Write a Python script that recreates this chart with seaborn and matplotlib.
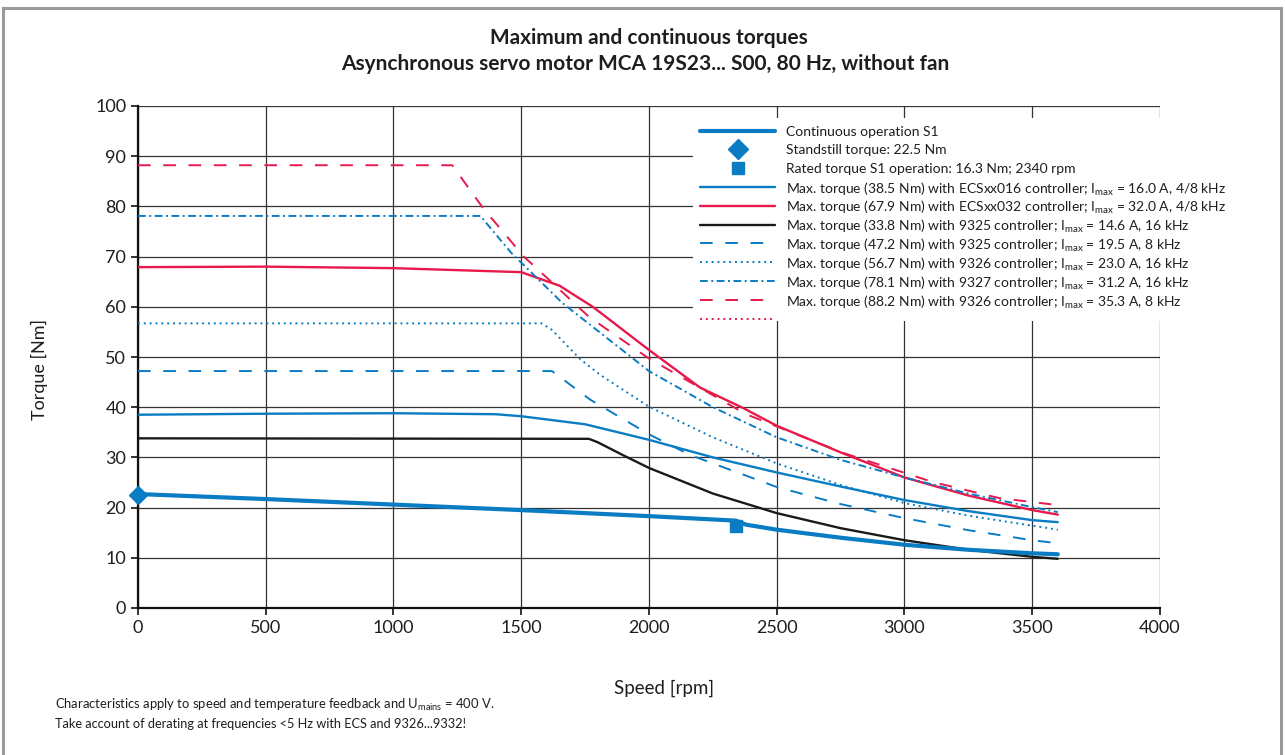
import matplotlib
matplotlib.use("Agg")
import matplotlib.pyplot as plt
from matplotlib.patches import Rectangle
import seaborn as sns

# Continuous operation S1
speed_s1 = [0, 500, 1000, 1500, 2000, 2340, 2380, 2500, 2750, 3000, 3250, 3500, 3600]
torque_s1 = [22.7, 21.7, 20.6, 19.5, 18.3, 17.4, 16.6, 15.6, 14.0, 12.6, 11.6, 10.9, 10.7]

# ECSxx016 (blue solid)
speed_ecs016 = [0, 500, 1000, 1400, 1500, 1750, 2000, 2250, 2500, 2750, 3000, 3250, 3500, 3600]
torque_ecs016 = [38.5, 38.7, 38.8, 38.6, 38.2, 36.6, 33.5, 30.0, 27.0, 24.2, 21.5, 19.3, 17.5, 17.1]

# ECSxx032 (red solid)
speed_ecs032 = [0, 500, 1000, 1500, 1650, 1780, 2000, 2200, 2370, 2500, 2750, 3000, 3250, 3500, 3600]
torque_ecs032 = [67.9, 68.0, 67.7, 66.9, 64.2, 60.0, 51.4, 43.9, 39.8, 36.3, 31.0, 26.0, 22.4, 19.5, 18.6]

# 9325, 16 kHz (black)
speed_9325_16 = [0, 1765, 1800, 1900, 2000, 2250, 2500, 2750, 3000, 3250, 3500, 3600]
torque_9325_16 = [33.8, 33.7, 33.0, 30.4, 27.9, 22.8, 18.9, 15.9, 13.5, 11.6, 10.2, 9.8]

# 9325, 8 kHz (blue dashed)
speed_9325_8 = [0, 1620, 1770, 2000, 2160, 2500, 2750, 3000, 3250, 3500, 3600]
torque_9325_8 = [47.2, 47.2, 41.5, 34.6, 30.5, 24.1, 20.7, 17.9, 15.5, 13.5, 12.9]

# 9326, 16 kHz (blue dotted)
speed_9326_16 = [0, 1580, 1620, 1730, 1810, 2000, 2250, 2500, 2750, 3000, 3250, 3500, 3600]
torque_9326_16 = [56.7, 56.7, 55.4, 49.6, 46.4, 40.1, 34.0, 28.8, 24.5, 20.9, 18.4, 16.4, 15.6]

# 9327, 16 kHz (blue dash-dot)
speed_9327 = [0, 1340, 1460, 1660, 2000, 2250, 2500, 2750, 3000, 3250, 3500, 3600]
torque_9327 = [78.1, 78.1, 70.8, 60.8, 47.2, 40.0, 34.0, 29.5, 26.0, 22.8, 20.1, 19.1]

# 9326, 8 kHz (red dashed)
speed_9326_8 = [0, 1230, 1350, 1510, 1600, 1765, 2000, 2380, 2760, 3110, 3370, 3600]
torque_9326_8 = [88.2, 88.2, 79.7, 70.0, 65.8, 58.0, 49.7, 38.6, 30.9, 25.1, 21.9, 20.5]

standstill = (0, 22.5)
rated = (2340, 16.3)

legend_labels = [
    "Continuous operation S1",
    "Standstill torque: 22.5 Nm",
    "Rated torque S1 operation: 16.3 Nm; 2340 rpm",
    "Max. torque (38.5 Nm) with ECSxx016 controller; I$_{\\mathrm{max}}$ = 16.0 A, 4/8 kHz",
    "Max. torque (67.9 Nm) with ECSxx032 controller; I$_{\\mathrm{max}}$ = 32.0 A, 4/8 kHz",
    "Max. torque (33.8 Nm) with 9325 controller; I$_{\\mathrm{max}}$ = 14.6 A, 16 kHz",
    "Max. torque (47.2 Nm) with 9325 controller; I$_{\\mathrm{max}}$ = 19.5 A, 8 kHz",
    "Max. torque (56.7 Nm) with 9326 controller; I$_{\\mathrm{max}}$ = 23.0 A, 16 kHz",
    "Max. torque (78.1 Nm) with 9327 controller; I$_{\\mathrm{max}}$ = 31.2 A, 16 kHz",
    "Max. torque (88.2 Nm) with 9326 controller; I$_{\\mathrm{max}}$ = 35.3 A, 8 kHz",
    "",
]

BLUE = "#0a7cc4"
RED = "#e8194b"
BLACK = "#1a1a1a"
TXT = "#1e1e1e"

sns.set_theme(style="white")
plt.rcParams["font.family"] = ["Lato", "DejaVu Sans"]
plt.rcParams["mathtext.fontset"] = "custom"
plt.rcParams["mathtext.rm"] = "Lato"
plt.rcParams["mathtext.it"] = "Lato"

fig = plt.figure(figsize=(12.85, 7.55), dpi=100)
ax = fig.add_axes([138 / 1285, 1 - 608 / 755, 1022 / 1285, 502 / 755])

DASH = (0, (6.5, 6.5))
DOT = (0, (1, 2))
DASHDOT = (0, (4, 1.8, 1, 1.8))

# (x, y, colour, linestyle, linewidth, marker) -- order matches legend_labels
styles = [
    (speed_s1, torque_s1, BLUE, "-", 3.0, None),
    (None, None, BLUE, "none", 0, "D"),
    (None, None, BLUE, "none", 0, "s"),
    (speed_ecs016, torque_ecs016, BLUE, "-", 1.7, None),
    (speed_ecs032, torque_ecs032, RED, "-", 1.7, None),
    (speed_9325_16, torque_9325_16, BLACK, "-", 1.7, None),
    (speed_9325_8, torque_9325_8, BLUE, DASH, 1.4, None),
    (speed_9326_16, torque_9326_16, BLUE, DOT, 1.4, None),
    (speed_9327, torque_9327, BLUE, DASHDOT, 1.4, None),
    (speed_9326_8, torque_9326_8, RED, DASH, 1.4, None),
    (None, None, RED, DOT, 1.4, None),
]

for xs, ys, col, ls, lw, mk in styles[3:] + styles[:1]:
    if xs is None:
        continue
    sns.lineplot(x=xs, y=ys, ax=ax, color=col, linestyle=ls, linewidth=lw,
                 errorbar=None, sort=False, zorder=3)

ax.plot(*standstill, marker="D", color=BLUE, markersize=9, clip_on=False, zorder=4)
ax.plot(*rated, marker="s", color=BLUE, markersize=9, zorder=4)

ax.set_xlim(0, 4000)
ax.set_ylim(0, 100)
ax.set_xticks(range(0, 4001, 500))
ax.set_yticks(range(0, 101, 10))
ax.grid(True, color="#333333", linewidth=0.9)
ax.set_axisbelow(True)
for s in ["top", "right"]:
    ax.spines[s].set_visible(False)
for s in ["left", "bottom"]:
    ax.spines[s].set_color("#111111")
    ax.spines[s].set_linewidth(1.6)
ax.tick_params(axis="both", direction="out", length=5, width=1.2, color="#111111",
               labelsize=13, labelcolor=TXT, left=True, bottom=True)
ax.set_xlabel("Speed [rpm]", fontsize=13.5, color=TXT)
ax.set_ylabel("Torque [Nm]", fontsize=13, color=TXT)
ax.xaxis.set_label_coords((664 - 138) / 1022, -(680 - 608) / 502)
ax.yaxis.set_label_coords(-(138 - 48) / 1022, (608 - 370) / 502)

# white area behind the legend
ax.add_patch(Rectangle((2172, 57.2), 2000, 40.4, facecolor="white", edgecolor="none",
                       clip_on=False, zorder=1))


# legend drawn row by row so the spacing stays even
def fx(px):
    return (px - 138) / 1022


def fy(py):
    return (608 - py) / 502


row_y = [131, 149, 168, 187, 205.5, 224.5, 243, 262, 281, 300, 318.5]
for (xs, ys, col, ls, lw, mk), label, py in zip(styles, legend_labels, row_y):
    if mk is None:
        ax.plot([fx(700), fx(775)], [fy(py), fy(py)], transform=ax.transAxes,
                color=col, linestyle=ls, linewidth=lw, clip_on=False, zorder=5)
    else:
        ax.plot([fx(738)], [fy(py)], transform=ax.transAxes, color=col, marker=mk,
                markersize=9 if mk == "s" else 10, clip_on=False, zorder=5)
    if label:
        ax.text(fx(786), fy(py), label, transform=ax.transAxes, ha="left", va="center_baseline",
                fontsize=10, color=TXT, zorder=5)

fig.text(649 / 1285, 1 - 38 / 755, "Maximum and continuous torques",
         ha="center", va="center", fontsize=15, fontweight="bold", color=TXT)
fig.text(645 / 1285, 1 - 64 / 755, "Asynchronous servo motor MCA 19S23... S00, 80 Hz, without fan",
         ha="center", va="center", fontsize=15, fontweight="bold", color=TXT)

fig.text(55 / 1285, 1 - 705 / 755,
         r"Characteristics apply to speed and temperature feedback and U$_{\mathrm{mains}}$ = 400 V.",
         ha="left", va="center", fontsize=9.4, color=TXT)
fig.text(55 / 1285, 1 - 724 / 755,
         "Take account of derating at frequencies <5 Hz with ECS and 9326...9332!",
         ha="left", va="center", fontsize=9.2, color=TXT)

# grey page border (open at the bottom)
fig.patches.append(Rectangle((3 / 1285, -0.02), 1278 / 1285, 1 - 8 / 755 + 0.02,
                             transform=fig.transFigure, fill=False,
                             edgecolor="#9a9a9a", linewidth=2.2))

fig.savefig("out.png", dpi=100)
